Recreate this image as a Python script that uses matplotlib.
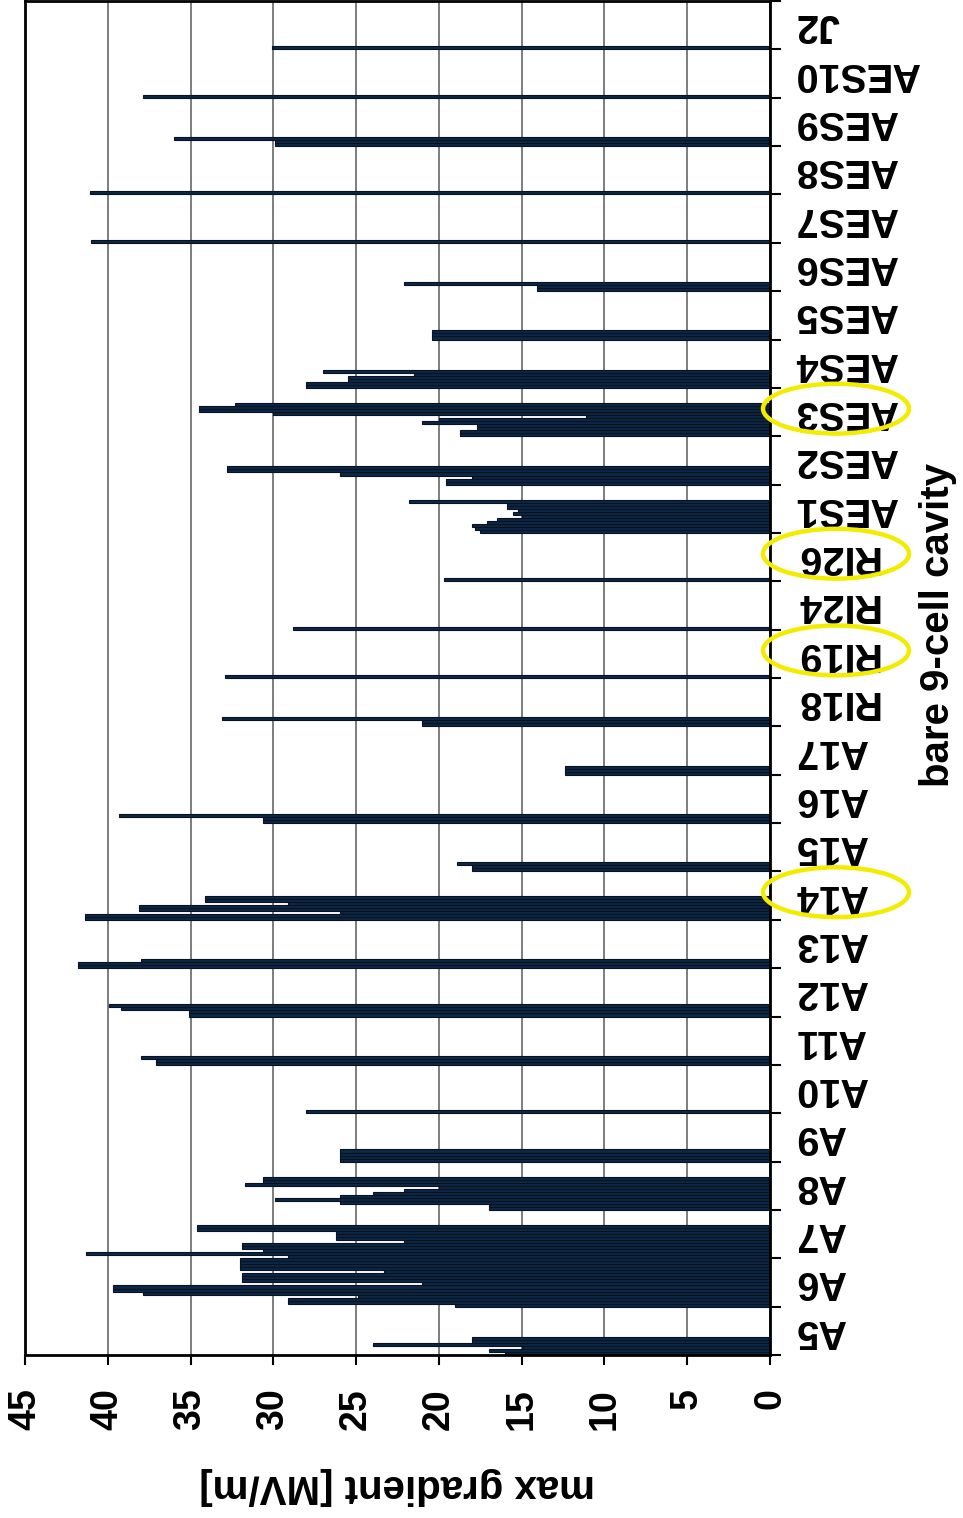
import numpy as np
import matplotlib.pyplot as plt
from matplotlib.patches import Ellipse
from matplotlib.transforms import blended_transform_factory

plt.rcParams['font.family'] = ['Liberation Sans', 'DejaVu Sans']
plt.rcParams['font.weight'] = 'bold'

cavities = ['A5', 'A6', 'A7', 'A8', 'A9', 'A10', 'A11', 'A12', 'A13', 'A14',
            'A15', 'A16', 'A17', 'RI18', 'RI19', 'RI24', 'RI26', 'AES1',
            'AES2', 'AES3', 'AES4', 'AES5', 'AES6', 'AES7', 'AES8', 'AES9',
            'AES10', 'J2']

# max gradient of each test, in test order (MV/m)
a5 = [16.0, 17.0, 15.0, 24.0, 18.0, 18.0]
a6 = [19.0, 29.1, 29.1, 24.9, 37.9, 39.7, 39.7, 21.0, 31.9, 31.9, 31.9, 23.3,
      32.0, 32.0, 32.0, 32.0]
a7 = [29.1, 41.3, 30.6, 31.9, 31.9, 22.1, 26.2, 26.2, 26.2, 34.6, 34.6]
a8 = [17.0, 17.0, 26.0, 29.9, 26.0, 24.0, 22.1, 20.0, 31.7, 30.6, 30.6]
a9 = [26.0, 26.0, 26.0, 26.0]
a10 = [28.0]
a11 = [37.1, 37.1, 38.0]
a12 = [35.1, 35.1, 39.2, 39.9]
a13 = [41.8, 41.8, 38.0]
a14 = [41.4, 41.4, 26.0, 38.1, 38.1, 29.1, 34.1, 34.1]
a15 = [18.0, 18.0, 18.9]
a16 = [30.6, 30.6, 39.3]
a17 = [12.4, 12.4, 12.4]
ri18 = [21.0, 21.0, 33.1]
ri19 = [32.9]
ri24 = [28.8]
ri26 = [19.7]
aes1 = [17.5, 17.8, 18.0, 17.1, 16.5, 15.0, 15.5, 15.2, 15.9, 15.9, 21.8]
aes2 = [19.6, 19.6, 18.0, 26.0, 32.8, 32.8]
aes3 = [18.7, 18.7, 17.7, 17.7, 21.0, 20.0, 11.1, 30.0, 34.5, 34.5, 32.3]
aes4 = [28.0, 28.0, 25.5, 25.5, 21.5, 27.0]
aes5 = [20.4, 20.4, 20.4]
aes6 = [14.1, 14.1, 22.1]
aes7 = [41.0]
aes8 = [41.1]
aes9 = [29.9, 29.9, 36.0]
aes10 = [37.9]
j2 = [30.1]

gradients = [a5, a6, a7, a8, a9, a10, a11, a12, a13, a14, a15, a16, a17,
             ri18, ri19, ri24, ri26, aes1, aes2, aes3, aes4, aes5, aes6,
             aes7, aes8, aes9, aes10, j2]

circled = ['A14', 'RI19', 'RI26', 'AES3']

n_slots = 16  # room for up to 16 tests per cavity

fig = plt.figure(figsize=(9.63, 15.18), dpi=100)
ax = fig.add_axes([25 / 963, 1 - 1355 / 1518, 745 / 963, 1354 / 1518])

for i, vals in enumerate(gradients):
    y = i + (np.arange(len(vals)) + 0.5) / n_slots
    ax.barh(y, vals, height=1 / n_slots, color='#0c2848',
            edgecolor='#0a1220', linewidth=0.8, zorder=2)

ax.set_xlim(45, 0)
ax.set_ylim(0, len(cavities))

ax.set_xticks(np.arange(0, 50, 5))
ax.set_xticklabels([str(v) for v in range(0, 50, 5)], rotation=90,
                   fontsize=27, fontweight='bold')
ax.tick_params(axis='x', direction='out', length=7, width=1.5, pad=17)
ax.xaxis.grid(True, color='#5a5a5a', linewidth=1.1)
ax.set_axisbelow(True)

ax.yaxis.tick_right()
ax.set_yticks(np.arange(len(cavities) + 1))
ax.set_yticklabels([])
ax.set_yticks(np.arange(len(cavities)) + 0.5, minor=True)
ax.set_yticklabels(cavities, minor=True, rotation=180, fontsize=28.5,
                   fontweight='bold', ha='left', va='center')
ax.tick_params(axis='y', which='major', direction='out', length=8, width=1.5)
ax.tick_params(axis='y', which='minor', length=0, pad=18)

for side in ['left', 'right', 'top', 'bottom']:
    ax.spines[side].set_linewidth(2)
    ax.spines[side].set_color('black')

ax.set_xlabel('max gradient [MV/m]', rotation=180, fontsize=29,
              fontweight='bold', va='center')
ax.xaxis.set_label_coords(0.5, (1355 - 1486) / 1354)

ax.yaxis.set_label_position('right')
ax.set_ylabel('bare 9-cell cavity', rotation=90, fontsize=29,
              fontweight='bold', va='center', ha='center')
ax.yaxis.set_label_coords((938 - 25) / 745, (1355 - 625) / 1354)

# yellow rings around the highlighted cavity names
ring_tf = blended_transform_factory(fig.transFigure, ax.transData)
for name in circled:
    i = cavities.index(name)
    ring = Ellipse((836 / 963, i + 0.57), width=146 / 963, height=1.03,
                   transform=ring_tf, fill=False, edgecolor='#f3ec00',
                   linewidth=3.2, clip_on=False, zorder=5)
    ax.add_patch(ring)

fig.savefig('out.png', dpi=100, facecolor='white')
